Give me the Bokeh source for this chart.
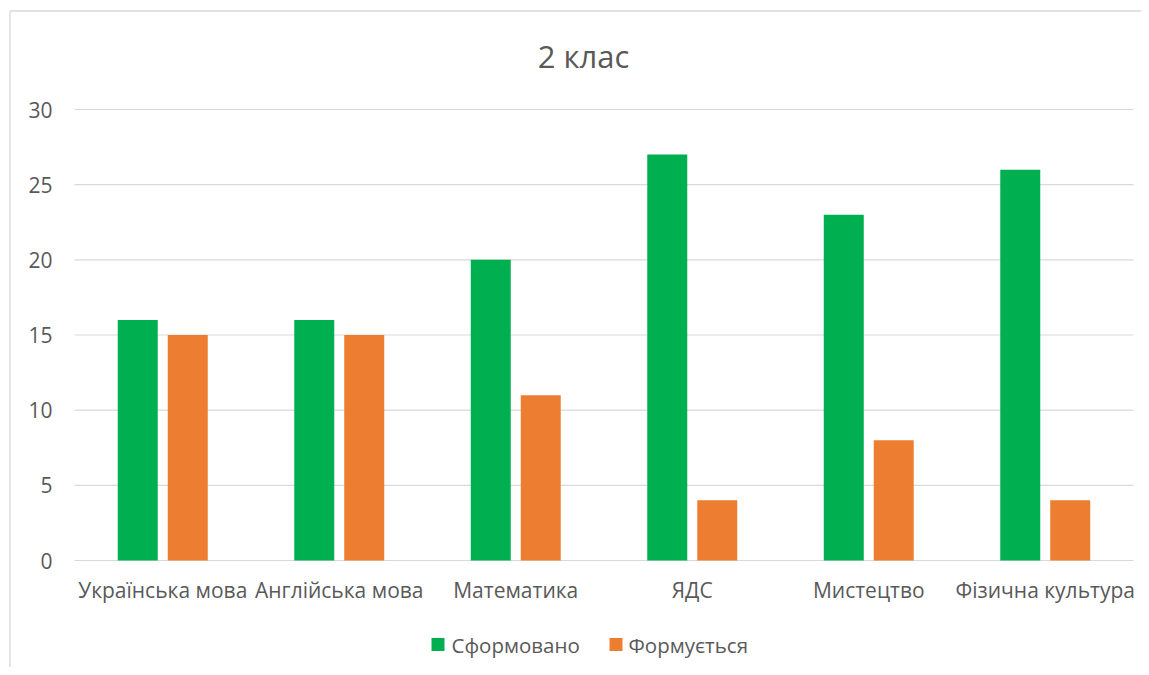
from bokeh.plotting import figure
from bokeh.models import Range1d, ColumnDataSource
from bokeh.core.properties import value
from bokeh.embed import file_html
from bokeh.resources import INLINE

categories = ["Українська мова", "Англійська мова", "Математика", "ЯДС", "Мистецтво", "Фізична культура"]
formed = [16, 16, 20, 27, 23, 26]
forming = [15, 15, 11, 4, 8, 4]
series_names = ["Сформовано", "Формується"]
series_colors = ["#00B050", "#ED7D31"]
y_ticks = [0, 5, 10, 15, 20, 25, 30]
y_tick_labels = [str(t) for t in y_ticks]
title_text = "2 клас"

FONT = "Open Sans"
TXT = "#595959"
GRID = "#d9d9d9"

# layout (pixels of the canvas)
W, H = 1141, 667
PX_L, PX_R, PX_T, PX_B = 74, 1133, 109, 560
n = len(categories)
cat_px = (PX_R - PX_L) / n
unit_px = (PX_B - PX_T) / (y_ticks[-1] - y_ticks[0])


def dx(px):
    return (px - PX_L) / cat_px


def dy(py):
    return (PX_B - py) / unit_px


p = figure(width=W, height=H, output_backend="svg", toolbar_location=None,
           x_range=Range1d(dx(0), dx(W)), y_range=Range1d(dy(H), dy(0)),
           x_axis_location=None, y_axis_location=None, title_location=None,
           min_border=0, min_border_left=0, min_border_right=0, min_border_top=0, min_border_bottom=0)
p.outline_line_color = None
p.grid.visible = False
p.background_fill_color = "white"
p.border_fill_color = "white"

# chart border (left and top edges visible)
p.segment(x0=[dx(9.5), dx(9.5)], y0=[dy(10.5), dy(10.5)], x1=[dx(9.5), dx(W + 5)], y1=[dy(H + 5), dy(10.5)],
          line_color=GRID, line_width=1.3)

# gridlines
p.segment(x0=[0] * len(y_ticks), x1=[n] * len(y_ticks), y0=y_ticks, y1=y_ticks,
          line_color=GRID, line_width=1.2)

# y tick labels
p.text(x=[dx(52)] * len(y_ticks), y=y_ticks, text=y_tick_labels, text_align="right",
       text_baseline="middle", text_font=value(FONT), text_font_size="21px", text_color=TXT)

# bars
off = 0.1416
bw = 0.2266
src = ColumnDataSource(dict(
    xg=[i + 0.5 - off for i in range(n)], xo=[i + 0.5 + off for i in range(n)],
    formed=formed, forming=forming))
p.vbar(x="xg", top="formed", bottom=0, width=bw, source=src, fill_color=series_colors[0], line_color=None)
p.vbar(x="xo", top="forming", bottom=0, width=bw, source=src, fill_color=series_colors[1], line_color=None)

# category labels
p.text(x=[i + 0.5 for i in range(n)], y=[dy(589.5)] * n, text=categories, text_align="center",
       text_baseline="middle", text_font=value(FONT), text_font_size="21px", text_color=TXT)

# title
p.text(x=[dx(583)], y=[dy(55)], text=[title_text], text_align="center", text_baseline="middle",
       text_font=value(FONT), text_font_size="31px", text_color=TXT)

# legend
p.rect(x=[dx(437.5), dx(615.5)], y=[dy(644)] * 2, width=13, height=13, width_units="screen",
       height_units="screen", fill_color=series_colors, line_color=None)
p.text(x=[dx(451), dx(628)], y=[dy(644)] * 2, text=series_names, text_align="left",
       text_baseline="middle", text_font=value(FONT), text_font_size="20.5px", text_color=TXT)

open("out.html", "w").write(file_html(p, INLINE))
